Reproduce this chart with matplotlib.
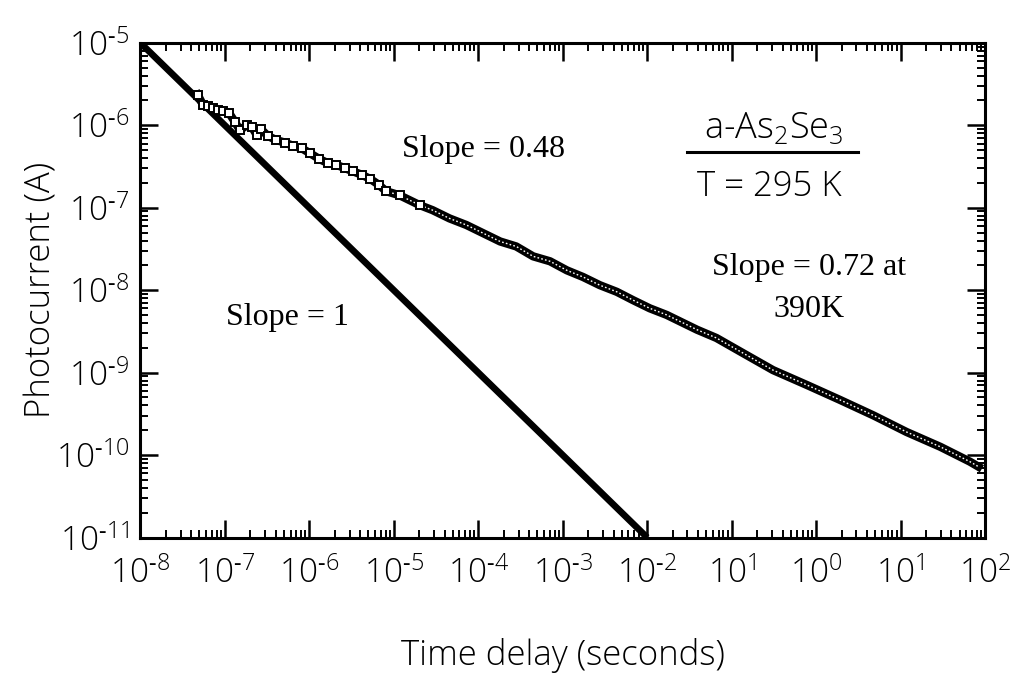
import numpy as np
import matplotlib
matplotlib.use('Agg')
import matplotlib.pyplot as plt
from matplotlib.ticker import LogLocator, FixedLocator, FixedFormatter, NullFormatter

plt.rcParams['font.family'] = ['Open Sans', 'DejaVu Sans']
plt.rcParams['font.weight'] = 'light'
plt.rcParams['mathtext.default'] = 'regular'

log_t = [-7.32, -7.26, -7.20, -7.14, -7.08, -7.02, -6.95, -6.88, -6.82, -6.74,
         -6.68, -6.62, -6.57, -6.49, -6.39, -6.29, -6.19, -6.09, -5.99, -5.88,
         -5.78, -5.68, -5.58, -5.48, -5.38, -5.28, -5.18, -5.09, -4.93, -4.69,
         -4.54, -4.34, -4.14, -3.94, -3.74, -3.55, -3.35, -3.15, -2.95, -2.76,
         -2.56, -2.36, -2.17, -1.97, -1.77, -1.57, -1.41, -1.18, -0.82, -0.51,
         -0.11, 0.28, 0.68, 1.07, 1.47, 1.82, 1.92]
log_i = [-5.63, -5.75, -5.77, -5.79, -5.82, -5.83, -5.85, -5.96, -6.06, -6.00,
         -6.02, -6.12, -6.05, -6.13, -6.18, -6.21, -6.25, -6.28, -6.34, -6.41,
         -6.46, -6.48, -6.52, -6.56, -6.60, -6.65, -6.72, -6.80, -6.85, -6.97,
         -7.03, -7.13, -7.21, -7.31, -7.41, -7.47, -7.59, -7.65, -7.76, -7.84,
         -7.94, -8.02, -8.12, -8.22, -8.30, -8.40, -8.48, -8.58, -8.79, -8.97,
         -9.15, -9.33, -9.52, -9.72, -9.90, -10.08, -10.14]

# slope = 1 reference line end points
ref_t = [1e-8, 1e-2]
ref_i = [1e-5, 1e-11]

H = '\u2010'  # short hyphen as in the printed labels
xticks = [1e-8, 1e-7, 1e-6, 1e-5, 1e-4, 1e-3, 1e-2, 1e-1, 1e0, 1e1, 1e2]
xlabels = ['$10^{%s8}$' % H, '$10^{%s7}$' % H, '$10^{%s6}$' % H, '$10^{%s5}$' % H,
           '$10^{%s4}$' % H, '$10^{%s3}$' % H, '$10^{%s2}$' % H, '$10^{1}$',
           '$10^{0}$', '$10^{1}$', '$10^{2}$']
yticks = [1e-11, 1e-10, 1e-9, 1e-8, 1e-7, 1e-6, 1e-5]
ylabels = ['$10^{%s11}$' % H, '$10^{%s10}$' % H, '$10^{%s9}$' % H, '$10^{%s8}$' % H,
           '$10^{%s7}$' % H, '$10^{%s6}$' % H, '$10^{%s5}$' % H]

t = 10.0 ** np.array(log_t)
cur = 10.0 ** np.array(log_i)

fig = plt.figure(figsize=(10.24, 6.9), dpi=100)
ax = fig.add_axes([0.137, 0.221, 0.825, 0.717])
ax.set_xscale('log')
ax.set_yscale('log')
ax.set_xlim(1e-8, 1e2)
ax.set_ylim(1e-11, 1e-5)

ax.plot(ref_t, ref_i, color='black', lw=4.8, solid_capstyle='butt', zorder=3)

ax.plot(t, cur, color='black', lw=6, zorder=4)
ax.plot(t, cur, color='white', lw=1.0, ls=(0, (1.2, 1.6)), zorder=5)
ax.plot(t[:30], cur[:30], ls='none', marker='s', ms=5.5, mfc='white', mec='black',
        mew=1.4, zorder=6)

ax.xaxis.set_major_locator(FixedLocator(xticks))
ax.xaxis.set_major_formatter(FixedFormatter(xlabels))
ax.yaxis.set_major_locator(FixedLocator(yticks))
ax.yaxis.set_major_formatter(FixedFormatter(ylabels))
ax.xaxis.set_minor_locator(LogLocator(base=10, subs=np.arange(2, 10), numticks=20))
ax.yaxis.set_minor_locator(LogLocator(base=10, subs=np.arange(2, 10), numticks=20))
ax.xaxis.set_minor_formatter(NullFormatter())
ax.yaxis.set_minor_formatter(NullFormatter())

ax.tick_params(which='both', direction='in', top=True, right=True, color='black')
ax.tick_params(which='major', length=13, width=1.8, labelsize=24)
ax.tick_params(axis='x', which='major', pad=14)
ax.tick_params(axis='y', which='major', pad=8)
ax.tick_params(which='minor', length=6, width=1.4)
for sp in ax.spines.values():
    sp.set_linewidth(2.2)

ax.set_xlabel('Time delay (seconds)', fontsize=25, weight='light', va='center')
ax.xaxis.set_label_coords(0.5, -0.238)
ax.set_ylabel('Photocurrent (A)', fontsize=25, weight='light', va='center')
ax.yaxis.set_label_coords(-0.117, 0.5)

serif = ['Liberation Serif', 'DejaVu Serif']
ax.text(0.406, 0.784, 'Slope = 0.48', transform=ax.transAxes, fontsize=23,
        family=serif, weight='normal', ha='center', va='center')
ax.text(0.174, 0.445, 'Slope = 1', transform=ax.transAxes, fontsize=23,
        family=serif, weight='normal', ha='center', va='center')
ax.text(0.792, 0.546, 'Slope = 0.72 at', transform=ax.transAxes, fontsize=23,
        family=serif, weight='normal', ha='center', va='center')
ax.text(0.792, 0.461, '390K', transform=ax.transAxes, fontsize=23,
        family=serif, weight='normal', ha='center', va='center')

ax.text(0.750, 0.826, 'a-As$_2$Se$_3$', transform=ax.transAxes, fontsize=26,
        ha='center', va='center')
ax.plot([0.647, 0.849], [0.780, 0.780], transform=ax.transAxes, color='black',
        lw=2.2, clip_on=False)
ax.text(0.745, 0.708, 'T = 295 K', transform=ax.transAxes, fontsize=25,
        ha='center', va='center')

fig.savefig('out.png', dpi=100, facecolor='white')
